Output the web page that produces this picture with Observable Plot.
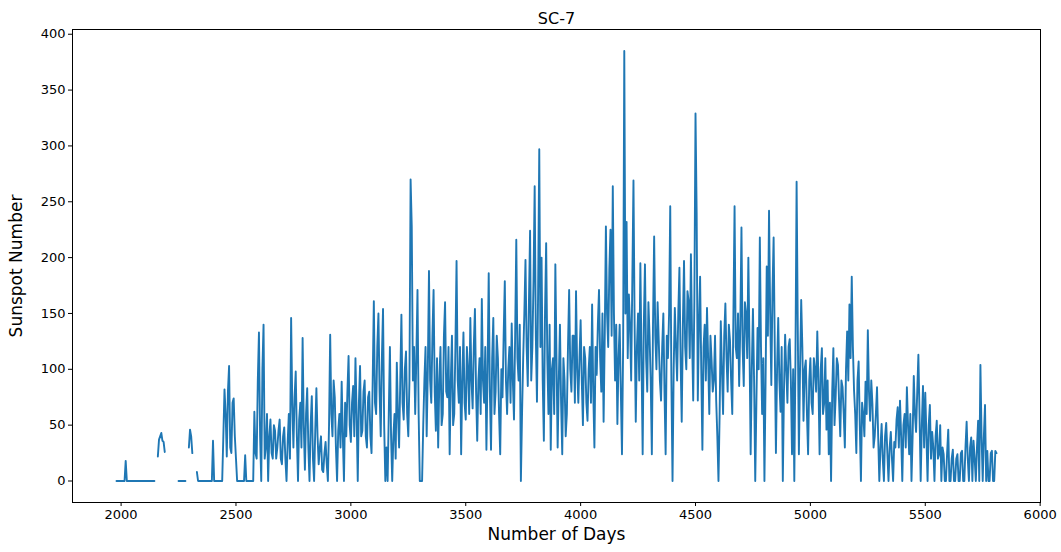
<!DOCTYPE html>
<html>
<head>
<meta charset="utf-8">
<script src="https://cdn.jsdelivr.net/npm/d3@7"></script>
<script src="https://cdn.jsdelivr.net/npm/@observablehq/plot@0.6"></script>
<style>
  html, body { margin: 0; padding: 0; background: #fff; }
</style>
</head>
<body>
<div id="chart"></div>
<script>
// Title and axis labels
const title = "SC-7";
const xLabel = "Number of Days";
const yLabel = "Sunspot Number";

// Sunspot numbers (null = gap in the record)
// Series A: days 1980, 1990, 2000, ...
const startDayA = 1980;
const sunspotsA = [
  0,0,0,0,18,0,0,0,0,0,
  0,0,0,0,0,0,0,null,22,40,
  36,26,null,null,null,null,null,0,0,0,
  0,null,46,25,null,8,0,0,0,0,
  0,0,36,0,0,0,0,82,22,103,
  25,74,20,0,0,0,23,0,0,0,
  62,20,133,0,140,30,0,55,20,45,
  30,55,15,48,0,60,146,30,98,0,
  70,128,10,83,0,76,0,83,15,40,
  8,35,0,131,40,75,0,60,89,0,
  40,112,35,85,110,0,103,45,90,30,
  80,25,161,60,150,40,154,0,0,120,
  0,60,106,30,149,55,116,40,270,90,
  60,171,0,0,90,40,188,70,171,45,
  30,120,60,160,75,24,130,60,197,70,
  24,133,55,100,146,65,154,36,110,163,
  70,28,186,28,146,80,110,24,75,179,
  60,120,141,55,216,90,0,110,198,85,
  224,120,264,71,297,200,36,213,60,28,
  110,194,30,140,24,90,60,171,80,130,
  170,70,144,50,110,54,120,158,30,95,
  171,80,53,228,120,225,264,90,51,140,
  24,385,232,167,90,269,53,150,195,24,
  194,80,130,24,219,100,126,72,150,24,
  110,246,0,155,90,191,53,197,100,161,
  203,72,329,72,183,28,140,155,60,108,
  90,72,0,143,60,159,80,126,60,246,
  110,85,227,85,150,200,24,154,0,137,
  218,60,0,192,242,86,218,25,146,62,
  0,131,70,127,24,0,268,24,162,54,
  108,24,110,60,100,134,24,119,70,46,
  24,0,119,75,104,40,84,30,134,158,
  183,81,25,107,0,60,89,135,54,69,
  40,84,0,51,0,52,0,44,0,30,
  66,72,0,60,84,24,0,94,44,113,
  0,85,79,0,68,44,0,54,24,0,
  24,0,46,0,28,0,24,0,27,0,
  53,0,39,36,0,54,104,0,68,27,
  0,27,0,25
];
// Series B: days 1985, 1995, 2005, ... (in between series A)
const startDayB = 1985;
const sunspotsB = [
  0,0,0,0,0,0,0,0,0,0,
  0,0,0,0,0,0,0,null,37,43,
  35,null,null,null,null,null,null,0,0,0,
  null,30,40,null,null,0,0,0,0,0,
  0,0,0,0,0,0,40,60,80,30,
  70,40,0,0,0,0,0,0,0,0,
  25,90,40,100,20,60,40,25,50,20,
  45,20,40,20,35,20,70,75,40,55,
  30,50,60,30,50,20,45,40,30,10,
  25,15,50,60,90,30,45,30,40,70,
  80,50,70,40,60,70,40,80,40,75,
  40,90,70,120,80,110,50,30,60,40,
  40,20,60,90,70,100,60,90,228,120,
  110,60,0,50,120,100,90,130,80,110,
  90,50,130,80,120,90,50,120,90,120,
  90,70,120,60,90,120,80,90,60,90,
  120,100,80,110,60,130,60,100,130,90,
  100,70,90,130,110,140,60,150,120,160,
  90,180,130,170,120,90,150,110,140,100,
  60,110,90,70,110,40,120,100,130,70,
  100,110,90,120,70,100,70,80,120,140,
  110,150,130,150,190,130,150,140,110,80,
  120,150,110,140,180,140,120,90,110,140,
  110,160,90,140,130,160,90,120,80,130,
  150,90,100,120,150,110,140,120,170,110,
  130,160,240,140,100,120,90,110,130,80,
  130,40,60,100,130,110,140,90,150,120,
  150,140,120,160,110,120,100,90,70,100,
  120,110,90,130,150,170,120,100,90,120,
  80,100,120,90,100,110,140,100,120,100,
  60,90,70,110,80,90,100,60,110,90,
  70,80,50,110,70,90,60,100,90,110,
  120,60,90,50,70,40,60,80,90,30,
  60,40,30,20,40,25,30,20,35,55,
  30,40,50,30,50,60,40,60,80,60,
  50,30,40,50,20,30,40,20,50,30,
  0,25,0,20,0,20,0,25,0,30,
  20,30,0,20,30,0,40,40,0,0,
  25,0,27
];
const stepDays = 10;

// Tick values
const xTicks = [2000, 2500, 3000, 3500, 4000, 4500, 5000, 5500, 6000];
const yTicks = [0, 50, 100, 150, 200, 250, 300, 350, 400];

const rows = [
  ...sunspotsA.map((v, i) => ({ day: startDayA + i * stepDays, value: v == null ? NaN : v })),
  ...sunspotsB.map((v, i) => ({ day: startDayB + i * stepDays, value: v == null ? NaN : v }))
].sort((a, b) => a.day - b.day);

const chart = Plot.plot({
  width: 1061,
  height: 552,
  marginLeft: 72,
  marginRight: 21,
  marginTop: 29,
  marginBottom: 50,
  style: { fontFamily: "DejaVu Sans", fontSize: "13px", color: "#000", background: "#fff", overflow: "visible" },
  x: { domain: [1788.5, 6001.5] },
  y: { domain: [-19.25, 404.25] },
  marks: [
    Plot.line(rows, { x: "day", y: "value", stroke: "#1f77b4", strokeWidth: 1.9 }),
    Plot.frame({ stroke: "#000", strokeWidth: 1 }),
    Plot.axisX(xTicks, { tickSize: 4, tickPadding: 3, tickFormat: d3.format("d"), label: null }),
    Plot.axisY(yTicks, { tickSize: 4, tickPadding: 3, tickFormat: d3.format("d"), label: null }),
    Plot.text([title], { frameAnchor: "top", dy: -17, fontSize: 16 }),
    Plot.text([xLabel], { frameAnchor: "bottom", dy: 37, fontSize: 17 }),
    Plot.text([yLabel], { frameAnchor: "left", dx: -56, rotate: -90, textAnchor: "middle", fontSize: 17 })
  ]
});
document.getElementById("chart").appendChild(chart);
</script>
</body>
</html>
